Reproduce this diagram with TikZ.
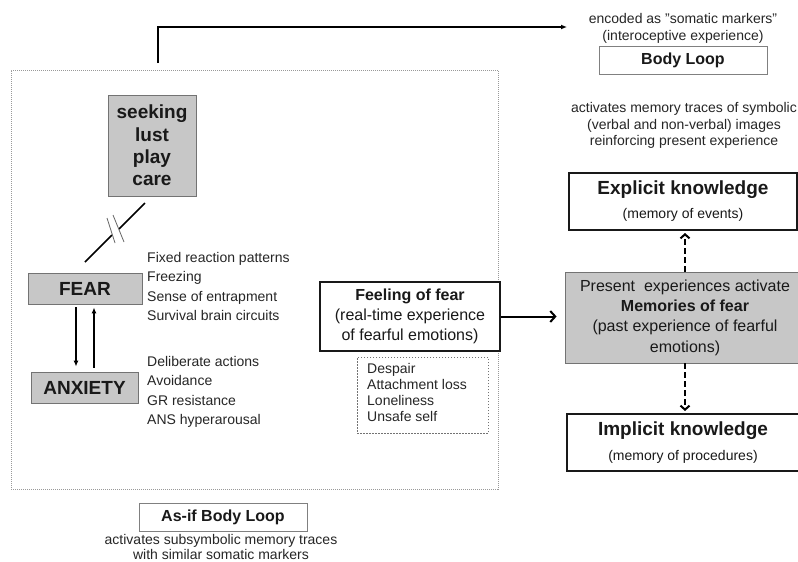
\documentclass[tikz,border=0pt]{standalone}
\usepackage{fontspec}
\setmainfont{Liberation Sans}
\usetikzlibrary{arrows.meta}

\begin{document}
\begin{tikzpicture}
  [
    x=1pt, y=-1pt,
    txt/.style = {inner sep=0pt, text=black!85},
    greybox/.style = {draw=black!55, fill=black!22, line width=0.8pt, inner sep=0pt, text=black!90, align=center},
    thickbox/.style = {draw=black!90, line width=2pt, fill=white, inner sep=0pt, text=black!90, align=center},
    thinbox/.style = {draw=black!50, line width=0.8pt, inner sep=0pt, text=black!90, font=\fontsize{16}{18}\selectfont\bfseries},
    frame/.style = {draw=black!40, densely dotted, line width=1pt, inner sep=0pt},
    listbox/.style = {draw=black!55, dash pattern=on 1.5pt off 1.5pt, line width=0.8pt, inner sep=0pt},
    arrow/.style = {line width=1.6pt, -{Latex[length=6pt,width=5pt]}},
    barb/.style = {line width=2pt, -{Straight Barb[length=5pt,width=11pt]}},
    dasharrow/.style = {line width=2pt, dash pattern=on 6pt off 3pt, -{Straight Barb[length=4pt,width=9pt]}},
  ]

  \fill[white] (0,0) rectangle (798,562);
  \useasboundingbox (0,0) rectangle (798,562);

  \node[frame, minimum width=487pt, minimum height=419pt] (frame) at (254.5,279.5) {};

  \node[greybox, minimum width=88pt, minimum height=101pt, font=\fontsize{19}{22.3}\selectfont\bfseries] (seek) at (152,145.5) {seeking\\lust\\play\\care};
  \node[greybox, minimum width=114pt, minimum height=31pt, font=\fontsize{19}{22}\selectfont\bfseries] (fear) at (85,288.5) {FEAR};
  \node[greybox, minimum width=107pt, minimum height=31pt, font=\fontsize{19}{22}\selectfont\bfseries] (anx) at (84.5,387.5) {ANXIETY};

  \node[txt, anchor=north west, align=left, font=\fontsize{14}{19.5}\selectfont] (fearlist) at (147,252) {Fixed reaction patterns\\Freezing\\Sense of entrapment\\Survival brain circuits};
  \node[txt, anchor=north west, align=left, font=\fontsize{14}{19.5}\selectfont] (anxlist) at (147,356) {Deliberate actions\\Avoidance\\GR resistance\\ANS hyperarousal};

  \node[thickbox, minimum width=180pt, minimum height=69pt, font=\fontsize{16}{20}\selectfont] (feel) at (410,316.5) {\textbf{Feeling of fear}\\(real-time experience\\of fearful emotions)};
  \node[listbox, minimum width=131pt, minimum height=76pt] (lossbox) at (422.5,395) {};
  \node[txt, anchor=north west, align=left, font=\fontsize{14}{16.2}\selectfont] (losslist) at (367,363) {Despair\\Attachment loss\\Loneliness\\Unsafe self};

  \node[greybox, minimum width=240pt, minimum height=91pt, font=\fontsize{16}{20.3}\selectfont] (present) at (685,317.5) {Present\ \ experiences activate\\\textbf{Memories of fear}\\(past experience of fearful\\emotions)};
  \node[thickbox, minimum width=228pt, minimum height=57pt, font=\fontsize{14}{24}\selectfont] (expl) at (683,201.5) {{\fontsize{19}{24}\selectfont\bfseries Explicit knowledge}\\(memory of events)};
  \node[thickbox, minimum width=232pt, minimum height=57pt, font=\fontsize{14}{25}\selectfont] (impl) at (683,442.5) {{\fontsize{19}{25}\selectfont\bfseries Implicit knowledge}\\(memory of procedures)};

  \node[thinbox, minimum width=168pt, minimum height=28pt] (body) at (683,60) {Body Loop};
  \node[thinbox, minimum width=168pt, minimum height=28pt] (asif) at (223,517) {As-if Body Loop};

  \node[txt, anchor=north, align=center, font=\fontsize{14}{16.5}\selectfont] (enc) at (683,13.5) {encoded as \symbol{34}somatic markers\symbol{34}\\(interoceptive experience)};
  \node[txt, anchor=north, align=center, font=\fontsize{14}{16.5}\selectfont] (sym) at (684,102.5) {activates memory traces of symbolic\\(verbal and non-verbal) images\\reinforcing present experience};
  \node[txt, anchor=north, align=center, font=\fontsize{14}{15.5}\selectfont] (subsym) at (221,534) {activates subsymbolic memory traces\\with similar somatic markers};

  \coordinate (up) at (158,63);
  \coordinate (tip) at (567,27);
  \draw[arrow] (up) |- (tip);

  \coordinate (cutA) at (85,262);
  \coordinate (cutB) at (145,203);
  \draw[line width=1.6pt] (cutA) -- (112,235) (119,229) -- (cutB);
  \draw[black!60, line width=0.8pt] (107,218) -- (115,243) (113,215) -- (124,242);

  \draw[arrow, shorten <=3pt, shorten >=5pt] ([xshift=-9pt]fear.south) -- ([xshift=-9pt]fear.south |- anx.north);
  \draw[arrow, shorten <=4pt, shorten >=3pt] ([xshift=9pt]fear.south |- anx.north) -- ([xshift=9pt]fear.south);

  \draw[barb, shorten >=8pt] (feel.east) -- (feel.east -| present.west);
  \draw[dasharrow, shorten >=2pt] (present.north) -- (present.north |- expl.south);
  \draw[dasharrow, shorten >=2pt] (present.south) -- (present.south |- impl.north);
\end{tikzpicture}
\end{document}
